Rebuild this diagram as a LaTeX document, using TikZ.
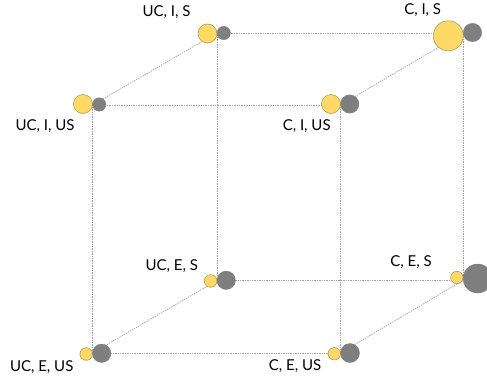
\documentclass[tikz,border=0pt]{standalone}
\usepackage{fontspec}
\setmainfont{Lato}
\definecolor{dotline}{HTML}{A0A0A0}
\definecolor{ballyellow}{HTML}{FFD966}
\definecolor{ballrim}{HTML}{B09A5A}
\definecolor{ballgray}{HTML}{7F7F7F}
\begin{document}
\begin{tikzpicture}[x=1pt,y=-1pt,
  edge/.style={draw=dotline, line width=0.7pt, dash pattern=on 1.4pt off 1pt},
  yball/.style={circle, inner sep=0pt, fill=ballyellow, draw=ballrim, line width=0.6pt, minimum size=#1},
  gball/.style={circle, inner sep=0pt, fill=ballgray, draw=ballgray, line width=0.4pt, minimum size=#1},
  tag/.style={inner sep=0pt, font=\fontsize{15}{18}\selectfont, text=black}]
\useasboundingbox (0,0) rectangle (487,380);

% cube corners: front face (US) and back face (S)
\coordinate (fTL) at (92.5,105);
\coordinate (fTR) at (340.5,105);
\coordinate (fBL) at (92.5,353);
\coordinate (fBR) at (340.5,353);
\coordinate (bTL) at (217,33);
\coordinate (bTR) at (463,33);
\coordinate (bBL) at (217,280.5);
\coordinate (bBR) at (463,280.5);

% cube edges
\draw[edge] (fTL) -- (fTR) -- (fBR) -- (fBL) -- cycle;
\draw[edge] (bTL) -- (bTR) -- (bBR) -- (bBL) -- cycle;
\draw[edge] (fTL) -- (bTL);
\draw[edge] (fTR) -- (bTR);
\draw[edge] (fBL) -- (bBL);
\draw[edge] (fBR) -- (bBR);

% pairs of balls at each corner
\node[yball=19pt] (y1) at (83,104) {};
\node[gball=13.4pt] (g1) at (99.2,104.5) {};

\node[yball=19pt] (y2) at (207.5,33.5) {};
\node[gball=13.4pt] (g2) at (223.7,33) {};

\node[yball=30pt] (y3) at (448.3,35.8) {};
\node[gball=18.4pt] (g3) at (472.5,32.5) {};

\node[yball=19pt] (y4) at (331,104) {};
\node[gball=18.4pt] (g4) at (349.7,104) {};

\node[yball=12.6pt] (y5) at (210.6,281) {};
\node[gball=18.4pt] (g5) at (226.2,280.3) {};

\node[yball=12.4pt] (y6) at (456.8,277.5) {};
\node[gball=29pt] (g6) at (477.6,278.5) {};

\node[yball=12.6pt] (y7) at (86.2,354) {};
\node[gball=18.4pt] (g7) at (101.7,353.3) {};

\node[yball=12.4pt] (y8) at (334.3,353.7) {};
\node[gball=19pt] (g8) at (350,353) {};

% corner labels
\node[tag] (t1) at (45,126) {UC, I, US};
\node[tag] (t2) at (166.5,12) {UC, I, S};
\node[tag] (t3) at (422.7,10.5) {C, I, S};
\node[tag] (t4) at (306.7,126.3) {C, I, US};
\node[tag] (t5) at (171.7,265.8) {UC, E, S};
\node[tag] (t6) at (411,261.7) {C, E, S};
\node[tag] (t7) at (41.7,366.7) {UC, E, US};
\node[tag] (t8) at (295,366) {C, E, US};
\end{tikzpicture}
\end{document}
